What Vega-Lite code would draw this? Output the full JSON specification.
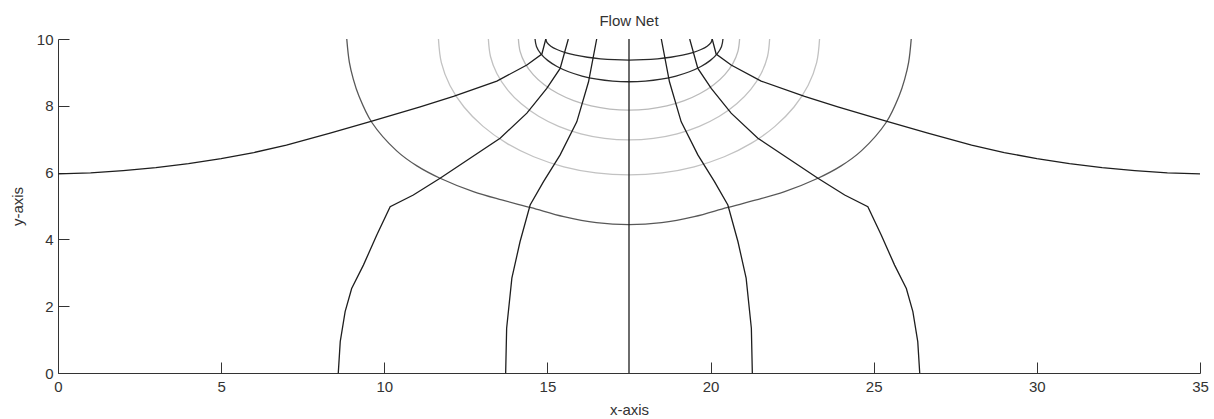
{
  "$schema": "https://vega.github.io/schema/vega-lite/v6.json",
  "autosize": "none",
  "width": 1142,
  "height": 334,
  "padding": {"left": 58, "top": 39, "right": 14, "bottom": 46},
  "background": "white",
  "config": {
    "view": {"stroke": null},
    "font": "Liberation Sans",
    "axis": {
      "grid": false,
      "domainColor": "#333333",
      "tickColor": "#333333",
      "labelColor": "#333333",
      "titleColor": "#333333",
      "labelFontSize": 15,
      "titleFontSize": 15,
      "titleFontWeight": "normal",
      "tickSize": -11,
      "domainWidth": 1,
      "tickWidth": 1
    }
  },
  "title": {"text": "Flow Net", "fontSize": 15, "fontWeight": "normal", "color": "#333333", "anchor": "middle", "offset": 3},
  "datasets": {
    "eq": [
      {"c":"E1","x":8.85,"y":10},{"c":"E1","x":8.93,"y":9.3},{"c":"E1","x":9.05,"y":8.8},{"c":"E1","x":9.22,"y":8.3},{"c":"E1","x":9.62,"y":7.5},{"c":"E1","x":10.38,"y":6.65},{"c":"E1","x":11.0,"y":6.2},{"c":"E1","x":11.71,"y":5.83},{"c":"E1","x":12.73,"y":5.43},{"c":"E1","x":13.6,"y":5.18},{"c":"E1","x":14.5,"y":4.95},{"c":"E1","x":15.5,"y":4.68},{"c":"E1","x":16.5,"y":4.5},{"c":"E1","x":17.5,"y":4.44},{"c":"E1","x":18.5,"y":4.5},{"c":"E1","x":19.5,"y":4.68},{"c":"E1","x":20.5,"y":4.95},{"c":"E1","x":21.4,"y":5.18},{"c":"E1","x":22.27,"y":5.43},{"c":"E1","x":23.29,"y":5.83},{"c":"E1","x":24.0,"y":6.2},{"c":"E1","x":24.62,"y":6.65},{"c":"E1","x":25.38,"y":7.5},{"c":"E1","x":25.78,"y":8.3},{"c":"E1","x":25.95,"y":8.8},{"c":"E1","x":26.07,"y":9.3},{"c":"E1","x":26.15,"y":10},
      {"c":"E2","x":11.66,"y":10},{"c":"E2","x":11.749,"y":9.293},{"c":"E2","x":12.012,"y":8.608},{"c":"E2","x":12.443,"y":7.965},{"c":"E2","x":13.027,"y":7.384},{"c":"E2","x":13.746,"y":6.882},{"c":"E2","x":14.58,"y":6.475},{"c":"E2","x":15.503,"y":6.175},{"c":"E2","x":16.486,"y":5.992},{"c":"E2","x":17.5,"y":5.93},{"c":"E2","x":18.514,"y":5.992},{"c":"E2","x":19.497,"y":6.175},{"c":"E2","x":20.42,"y":6.475},{"c":"E2","x":21.254,"y":6.882},{"c":"E2","x":21.973,"y":7.384},{"c":"E2","x":22.557,"y":7.965},{"c":"E2","x":22.988,"y":8.608},{"c":"E2","x":23.251,"y":9.293},{"c":"E2","x":23.34,"y":10},
      {"c":"E3","x":13.19,"y":10},{"c":"E3","x":13.255,"y":9.476},{"c":"E3","x":13.45,"y":8.967},{"c":"E3","x":13.767,"y":8.49},{"c":"E3","x":14.199,"y":8.059},{"c":"E3","x":14.73,"y":7.687},{"c":"E3","x":15.345,"y":7.385},{"c":"E3","x":16.026,"y":7.162},{"c":"E3","x":16.752,"y":7.026},{"c":"E3","x":17.5,"y":6.98},{"c":"E3","x":18.248,"y":7.026},{"c":"E3","x":18.974,"y":7.162},{"c":"E3","x":19.655,"y":7.385},{"c":"E3","x":20.27,"y":7.687},{"c":"E3","x":20.801,"y":8.059},{"c":"E3","x":21.233,"y":8.49},{"c":"E3","x":21.55,"y":8.967},{"c":"E3","x":21.745,"y":9.476},{"c":"E3","x":21.81,"y":10},
      {"c":"E4","x":14.11,"y":10},{"c":"E4","x":14.162,"y":9.63},{"c":"E4","x":14.314,"y":9.272},{"c":"E4","x":14.564,"y":8.935},{"c":"E4","x":14.903,"y":8.631},{"c":"E4","x":15.321,"y":8.368},{"c":"E4","x":15.805,"y":8.155},{"c":"E4","x":16.341,"y":7.998},{"c":"E4","x":16.911,"y":7.902},{"c":"E4","x":17.5,"y":7.87},{"c":"E4","x":18.089,"y":7.902},{"c":"E4","x":18.659,"y":7.998},{"c":"E4","x":19.195,"y":8.155},{"c":"E4","x":19.679,"y":8.368},{"c":"E4","x":20.097,"y":8.631},{"c":"E4","x":20.436,"y":8.935},{"c":"E4","x":20.686,"y":9.272},{"c":"E4","x":20.838,"y":9.63},{"c":"E4","x":20.89,"y":10},
      {"c":"E5","x":14.62,"y":10},{"c":"E5","x":14.664,"y":9.778},{"c":"E5","x":14.794,"y":9.562},{"c":"E5","x":15.006,"y":9.36},{"c":"E5","x":15.294,"y":9.177},{"c":"E5","x":15.649,"y":9.02},{"c":"E5","x":16.06,"y":8.892},{"c":"E5","x":16.515,"y":8.797},{"c":"E5","x":17.0,"y":8.739},{"c":"E5","x":17.5,"y":8.72},{"c":"E5","x":18.0,"y":8.739},{"c":"E5","x":18.485,"y":8.797},{"c":"E5","x":18.94,"y":8.892},{"c":"E5","x":19.351,"y":9.02},{"c":"E5","x":19.706,"y":9.177},{"c":"E5","x":19.994,"y":9.36},{"c":"E5","x":20.206,"y":9.562},{"c":"E5","x":20.336,"y":9.778},{"c":"E5","x":20.38,"y":10},
      {"c":"E6","x":14.95,"y":10},{"c":"E6","x":14.989,"y":9.891},{"c":"E6","x":15.104,"y":9.785},{"c":"E6","x":15.292,"y":9.685},{"c":"E6","x":15.547,"y":9.595},{"c":"E6","x":15.861,"y":9.517},{"c":"E6","x":16.225,"y":9.454},{"c":"E6","x":16.628,"y":9.408},{"c":"E6","x":17.057,"y":9.38},{"c":"E6","x":17.5,"y":9.37},{"c":"E6","x":17.943,"y":9.38},{"c":"E6","x":18.372,"y":9.408},{"c":"E6","x":18.775,"y":9.454},{"c":"E6","x":19.139,"y":9.517},{"c":"E6","x":19.453,"y":9.595},{"c":"E6","x":19.708,"y":9.685},{"c":"E6","x":19.896,"y":9.785},{"c":"E6","x":20.011,"y":9.891},{"c":"E6","x":20.05,"y":10}
    ],
    "flow": [
      {"c":"F1","x":0,"y":5.96},{"c":"F1","x":1,"y":5.99},{"c":"F1","x":2,"y":6.06},{"c":"F1","x":3,"y":6.15},{"c":"F1","x":4,"y":6.27},{"c":"F1","x":5,"y":6.42},{"c":"F1","x":6,"y":6.6},{"c":"F1","x":7,"y":6.82},{"c":"F1","x":8.34,"y":7.18},{"c":"F1","x":9.62,"y":7.54},{"c":"F1","x":11.1,"y":7.97},{"c":"F1","x":12.12,"y":8.28},{"c":"F1","x":13.45,"y":8.74},{"c":"F1","x":14.37,"y":9.22},{"c":"F1","x":14.83,"y":9.55},{"c":"F1","x":14.95,"y":10},
      {"c":"F2","x":8.59,"y":0},{"c":"F2","x":8.65,"y":0.94},{"c":"F2","x":8.8,"y":1.84},{"c":"F2","x":9.0,"y":2.53},{"c":"F2","x":9.36,"y":3.23},{"c":"F2","x":9.77,"y":4.13},{"c":"F2","x":10.18,"y":4.98},{"c":"F2","x":10.89,"y":5.33},{"c":"F2","x":11.71,"y":5.83},{"c":"F2","x":12.63,"y":6.43},{"c":"F2","x":13.55,"y":7.03},{"c":"F2","x":14.37,"y":7.78},{"c":"F2","x":14.98,"y":8.52},{"c":"F2","x":15.39,"y":9.12},{"c":"F2","x":15.64,"y":10},
      {"c":"F3","x":13.72,"y":0},{"c":"F3","x":13.75,"y":1.34},{"c":"F3","x":13.91,"y":2.84},{"c":"F3","x":14.16,"y":3.93},{"c":"F3","x":14.47,"y":5.03},{"c":"F3","x":14.88,"y":5.73},{"c":"F3","x":15.39,"y":6.53},{"c":"F3","x":15.9,"y":7.52},{"c":"F3","x":16.26,"y":8.72},{"c":"F3","x":16.51,"y":10},
      {"c":"F4","x":17.5,"y":0},{"c":"F4","x":17.5,"y":10},
      {"c":"F5","x":21.28,"y":0},{"c":"F5","x":21.25,"y":1.34},{"c":"F5","x":21.09,"y":2.84},{"c":"F5","x":20.84,"y":3.93},{"c":"F5","x":20.53,"y":5.03},{"c":"F5","x":20.12,"y":5.73},{"c":"F5","x":19.61,"y":6.53},{"c":"F5","x":19.1,"y":7.52},{"c":"F5","x":18.74,"y":8.72},{"c":"F5","x":18.49,"y":10},
      {"c":"F6","x":26.41,"y":0},{"c":"F6","x":26.35,"y":0.94},{"c":"F6","x":26.2,"y":1.84},{"c":"F6","x":26.0,"y":2.53},{"c":"F6","x":25.64,"y":3.23},{"c":"F6","x":25.23,"y":4.13},{"c":"F6","x":24.82,"y":4.98},{"c":"F6","x":24.11,"y":5.33},{"c":"F6","x":23.29,"y":5.83},{"c":"F6","x":22.37,"y":6.43},{"c":"F6","x":21.45,"y":7.03},{"c":"F6","x":20.63,"y":7.78},{"c":"F6","x":20.02,"y":8.52},{"c":"F6","x":19.61,"y":9.12},{"c":"F6","x":19.36,"y":10},
      {"c":"F7","x":35,"y":5.96},{"c":"F7","x":34,"y":5.99},{"c":"F7","x":33,"y":6.06},{"c":"F7","x":32,"y":6.15},{"c":"F7","x":31,"y":6.27},{"c":"F7","x":30,"y":6.42},{"c":"F7","x":29,"y":6.6},{"c":"F7","x":28,"y":6.82},{"c":"F7","x":26.66,"y":7.18},{"c":"F7","x":25.38,"y":7.54},{"c":"F7","x":23.9,"y":7.97},{"c":"F7","x":22.88,"y":8.28},{"c":"F7","x":21.55,"y":8.74},{"c":"F7","x":20.63,"y":9.22},{"c":"F7","x":20.17,"y":9.55},{"c":"F7","x":20.05,"y":10}
    ]
  },
  "encoding": {
    "x": {
      "field": "x", "type": "quantitative",
      "scale": {"domain": [0, 35], "nice": false, "zero": false},
      "axis": {"values": [0, 5, 10, 15, 20, 25, 30, 35], "title": "x-axis", "labelPadding": 17, "titlePadding": 8, "labelFlush": false}
    },
    "y": {
      "field": "y", "type": "quantitative",
      "scale": {"domain": [0, 10], "nice": false, "zero": false},
      "axis": {"values": [0, 2, 4, 6, 8, 10], "title": "y-axis", "labelPadding": 16, "titlePadding": 11, "labelFlush": false}
    },
    "detail": {"field": "c", "type": "nominal"},
    "order": {"value": null}
  },
  "layer": [
    {
      "data": {"name": "eq"},
      "mark": {"type": "line", "interpolate": "catmull-rom", "strokeWidth": 1.3, "clip": true},
      "encoding": {
        "color": {
          "field": "c", "type": "nominal", "legend": null,
          "scale": {"domain": ["E1", "E2", "E3", "E4", "E5", "E6"], "range": ["#585858", "#c2c2c2", "#c2c2c2", "#bababa", "#2a2a2a", "#2a2a2a"]}
        }
      }
    },
    {
      "data": {"name": "flow"},
      "mark": {"type": "line", "strokeWidth": 1.3, "color": "#1e1e1e", "clip": true},
      "encoding": {}
    }
  ]
}
